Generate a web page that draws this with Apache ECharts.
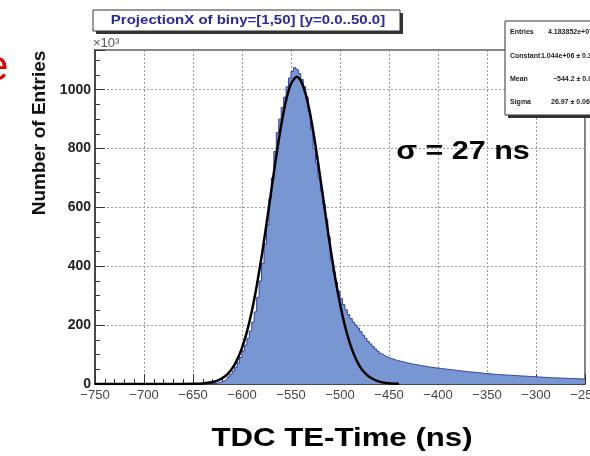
<!DOCTYPE html>
<html>
<head>
<meta charset="utf-8">
<script src="https://cdn.jsdelivr.net/npm/echarts@6/dist/echarts.min.js"></script>
<style>
  html, body { margin: 0; padding: 0; background: #fff; }
  #box1 { width: 590px; height: 456px; }
</style>
</head>
<body>
<div id="box1"></div>
<script>
var histChart = echarts.init(document.getElementById('box1'));

// histogram: left bin edges (2.5 ns wide) and counts in units of 10^3
var binWidth = 2.5;
var binEdges = [];
for (var e = -750; e < -250; e += binWidth) binEdges.push(e);
var counts = [
  0, 0, 0, 0, 0, 0, 0, 0, 0, 0,                      // -750 .. -727.5
  0, 0, 0, 0, 0, 0, 0, 0, 0, 0,                      // -725 .. -702.5
  0, 0, 0, 0, 0, 0, 0, 0, 0, 0,                      // -700 .. -677.5
  0, 0, 0, 0, 0, 0, 0, 0, 0, 0,                      // -675 .. -652.5
  0, 0, 0, 0, 0, 0, 0, 0,                            // -650 .. -632.5
  1, 3, 5, 8, 12, 17, 24, 33, 44, 57,                // -630 .. -607.5
  72, 90, 112, 132, 155, 180, 210, 245, 295, 350,    // -605 .. -582.5
  410, 475, 540, 630, 700, 790, 855, 900, 940, 975,  // -580 .. -557.5
  1010, 1040, 1062, 1075, 1068, 1055, 1035, 1010, 975, 925, // -555 .. -532.5
  865, 800, 750, 700, 655, 610, 560, 500, 420, 380,  // -530 .. -507.5
  345, 315, 290, 270, 252, 236, 222, 210, 200, 190,  // -505 .. -482.5
  178, 166, 155, 145, 136, 127, 119, 111, 104, 98,   // -480 .. -457.5
  94, 90, 87, 84, 81, 79, 77, 75, 73, 71,            // -455 .. -432.5
  69, 67.5, 66, 64.5, 63, 61.5, 60, 58.5, 57, 56,    // -430 .. -407.5
  55, 54, 53,                                        // -405 .. -400
  52, 51, 50, 49, 48, 47, 46, 45, 44, 43,            // -397.5 .. -375
  42, 41, 40.5, 40, 39, 38, 37, 36, 35.5, 35,        // -372.5 .. -350
  34, 33, 32.5, 32, 31.5, 31, 30.5, 30, 29.5, 29,    // -347.5 .. -325
  28.5, 28, 27.5, 27, 26.5, 26, 25.5, 25, 24.5, 24,  // -322.5 .. -300
  23.5, 23, 22.5, 22, 21.5, 21, 20.8, 20.5, 20.2, 20, // -297.5 .. -275
  19.5, 19, 18.8, 18.5, 18.2, 18, 17.5, 17.2, 17     // -272.5 .. -252.5
];

// gaussian fit curve
var fitX = [-750, -700, -660, -650, -640, -630, -625, -620, -615, -610, -605, -600, -595, -590, -585, -580, -575, -570, -565, -560, -555, -550, -544,
            -540, -535, -530, -525, -520, -515, -510, -505, -500, -495, -490, -485, -480, -475, -470, -460, -450, -440];
var fitY = [0, 0, 0.1, 0.5, 1.9, 6.6, 11.7, 20, 33, 53, 82, 123, 177, 247, 333, 433, 544, 660, 775, 879, 964, 1020, 1044,
            1031, 985, 909, 810, 698, 581, 467, 363, 273, 198, 139, 94, 61, 39, 24, 8, 2.3, 0.6];

var statNames = ['Entries', 'Constant', 'Mean', 'Sigma'];
var statValues = ['4.183852e+07', '1.044e+06 \u00b1 0.3e+03', '\u2212544.2 \u00b1 0.0', '26.97 \u00b1 0.06'];

var histData = binEdges.map(function(x, i) { return [x, counts[i]]; });
histData.push([-250, counts[counts.length - 1]]);
var fitData = fitX.map(function(x, i) { return [x, fitY[i]]; });

var font = 'Liberation Sans, Arial, sans-serif';
var gridLine = { show: true, lineStyle: { color: '#999', type: [2, 2], width: 1 } };

var statGraphics = [];
var statY = [33, 57, 80, 103];
var statValX = [548, 541, 553, 551];
statNames.forEach(function(n, i) {
  statGraphics.push({ type: 'text', z: 102, left: 510, top: statY[i] - 4,
    style: { text: n, font: 'bold 7px ' + font, fill: '#222' } });
  statGraphics.push({ type: 'text', z: 102, left: statValX[i], top: statY[i] - 4,
    style: { text: statValues[i], font: 'bold 7px ' + font, fill: '#222' } });
});

var option = {
  animation: false,
  backgroundColor: '#fff',
  grid: {
    left: 95, right: 5, top: 50, bottom: 72,
    containLabel: false, outerBoundsMode: 'none',
    show: true, borderColor: '#555', borderWidth: 1.5, backgroundColor: 'transparent'
  },
  xAxis: {
    type: 'value', min: -750, max: -250, interval: 50,
    axisLine: { show: true, onZero: false, lineStyle: { color: '#333', width: 1.5 } },
    axisTick: { show: true, inside: true, length: 10, lineStyle: { color: '#333' } },
    minorTick: { show: true, splitNumber: 5, length: 5, lineStyle: { color: '#333' } },
    splitLine: gridLine,
    axisLabel: {
      margin: 5, fontSize: 13, color: '#444', fontFamily: font, hideOverlap: false,
      formatter: function(v) { return String(v).replace('-', '\u2212'); }
    }
  },
  yAxis: {
    type: 'value', min: 0, max: 1135, interval: 200,
    axisLine: { show: true, lineStyle: { color: '#333', width: 1.5 } },
    axisTick: { show: true, inside: true, length: 10, lineStyle: { color: '#333' } },
    minorTick: { show: true, splitNumber: 4, length: 5, lineStyle: { color: '#333' } },
    splitLine: gridLine,
    axisLabel: {
      margin: 4, fontSize: 14, fontWeight: 'bold', color: '#222', fontFamily: font, showMaxLabel: false,
      formatter: function(v) { return String(v); }
    }
  },
  series: [{
      name: 'hist', type: 'line', step: 'end', symbol: 'none',
      data: histData,
      lineStyle: { color: '#3040a0', width: 1 },
      areaStyle: { color: '#7896d2', opacity: 1 }
    },
    {
      name: 'fit', type: 'line', smooth: 0.25, symbol: 'none',
      data: fitData,
      lineStyle: { color: '#000', width: 2.5 }
    }
  ],
  graphic: [
    // title box
    { type: 'rect', z: 100, shape: { x: 96, y: 13, width: 307, height: 21 }, style: { fill: '#333' } },
    { type: 'rect', z: 101, shape: { x: 93, y: 10, width: 307, height: 21 }, style: { fill: '#fff', stroke: '#333', lineWidth: 1 } },
    { type: 'text', z: 102, x: 248, y: 21, scaleX: 1.2,
      style: { text: 'ProjectionX of biny=[1,50] [y=0.0..50.0]', font: 'bold 12.5px ' + font, fill: '#2828a0', align: 'center', verticalAlign: 'middle' } },
    // stats box
    { type: 'rect', z: 100, shape: { x: 508, y: 24, width: 100, height: 94 }, style: { fill: '#333' } },
    { type: 'rect', z: 101, shape: { x: 505, y: 21, width: 100, height: 94 }, style: { fill: '#fff', stroke: '#333', lineWidth: 1 } },
    // x10^3
    { type: 'text', z: 102, left: 93, top: 37, style: { text: '\u00d710\u00b3', font: '13px ' + font, fill: '#555' } },
    // sigma annotation
    { type: 'text', z: 102, x: 463, y: 152, scaleX: 1.22,
      style: { text: '\u03c3 = 27 ns', font: 'bold 25px ' + font, fill: '#000', align: 'center', verticalAlign: 'middle' } },
    // axis titles
    { type: 'text', z: 102, x: 40, y: 133, rotation: Math.PI / 2,
      style: { text: 'Number of Entries', font: 'bold 19px ' + font, fill: '#111', align: 'center', verticalAlign: 'middle' } },
    { type: 'text', z: 102, x: 342, y: 439, scaleX: 1.2,
      style: { text: 'TDC TE-Time (ns)', font: 'bold 26px ' + font, fill: '#000', align: 'center', verticalAlign: 'middle' } },
    // cut-off red letter at the left edge
    { type: 'text', z: 102, x: -15, y: 68,
      style: { text: 'e', font: '42px ' + font, fill: '#e00000', verticalAlign: 'middle' } }
  ].concat(statGraphics)
};

histChart.setOption(option);
</script>
</body>
</html>
